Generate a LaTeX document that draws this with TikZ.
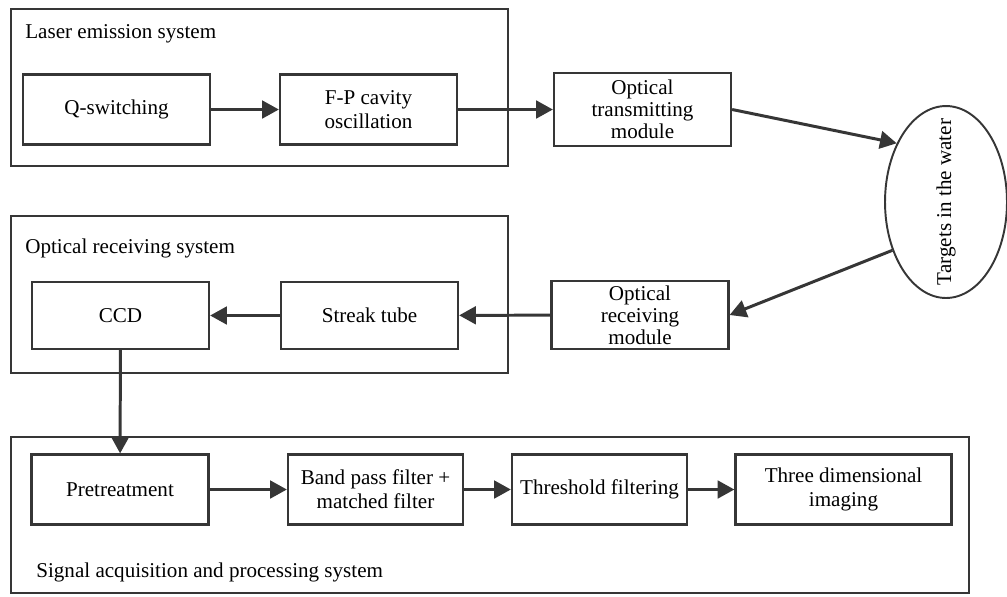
\documentclass[tikz,border=0pt]{standalone}
\usepackage{fontspec}
\setmainfont{Liberation Serif}
\usetikzlibrary{arrows.meta,shapes.geometric}
\definecolor{linegray}{HTML}{363636}
\begin{document}
\begin{tikzpicture}[x=0.02cm, y=-0.02cm,
	box/.style={draw=linegray, line width=1.3pt, minimum width=3.54cm, minimum height=1.4cm, inner sep=1pt, align=center, font=\fontsize{12}{12.5}\selectfont},
	frame/.style={draw=linegray, line width=1.3pt},
	title/.style={anchor=base west, inner sep=0pt, font=\fontsize{12}{13}\selectfont},
	arr/.style={draw=linegray, line width=1.7pt, -{Triangle[length=9.5pt, width=10pt]}}]
	\useasboundingbox (0, 0) rectangle (1007, 596);
		% laser emission system
		\draw[frame](11, 9) rectangle (508, 166);
			\node(lasertitle) at(25, 38)[title]{Laser emission system};
			\node(qsw) at(116.5, 109.5)[box, minimum width=3.74cm]{Q-switching};
			\node(fp) at(368.5, 109.5)[box]{F-P cavity\\[1pt]oscillation};
		\node(trans) at(642.5, 109.5)[box, minimum height=1.46cm]{Optical\\transmitting\\module};
		\node(tgt) at(946, 202)[ellipse, draw=linegray, line width=1.1pt, minimum width=2.44cm, minimum height=3.84cm]{};
			\node(tgttext) at(tgt.center)[rotate=90, font=\fontsize{12}{13}\selectfont]{Targets in the water};
		% optical receiving system
		\draw[frame](11, 216) rectangle (508, 373);
			\node(recvtitle) at(25, 253)[title]{Optical receiving system};
			\node(ccd) at(120.5, 315.5)[box, minimum height=1.34cm]{CCD};
			\node(streak) at(369.5, 315.5)[box, minimum height=1.34cm]{Streak tube};
		\node(recv) at(640, 315)[box, minimum height=1.36cm]{Optical\\receiving\\module};
		% signal acquisition and processing system
		\draw[frame](11, 437) rectangle (969, 593);
			\node(pre) at(120, 489.5)[box]{Pretreatment};
			\node(bpf) at(375.5, 489.5)[box, minimum width=3.5cm]{Band pass filter +\\[1pt]matched filter};
			\node(thr) at(599.5, 489.5)[box, minimum width=3.5cm]{Threshold filtering};
			\node(tdi) at(843.5, 489.5)[box, minimum width=4.32cm]{Three dimensional\\[1pt]imaging};
			\node(sigtitle) at(36, 577)[title]{Signal acquisition and processing system};

		\draw[arr](qsw) to (fp);
		\draw[arr](fp) to (trans);
		\draw[arr](trans.east) to (tgt.130);
		\draw[arr](tgt.222) to (recv.east);
		\draw[arr](recv) to (streak);
		\draw[arr](streak) to (ccd);
		\draw[arr](ccd) to (pre);
		\draw[arr](pre) to (bpf);
		\draw[arr](bpf) to (thr);
		\draw[arr](thr) to (tdi);
	\end{tikzpicture}
\end{document}
